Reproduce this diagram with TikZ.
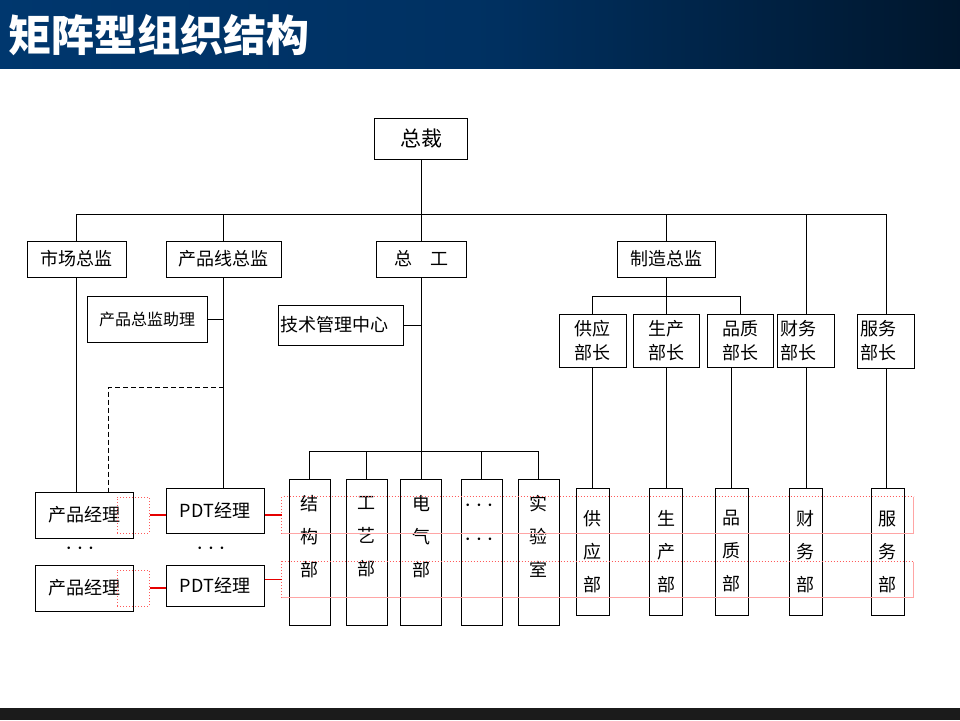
\documentclass[tikz,border=0pt]{standalone}
\usepackage{fontspec}
\setmainfont{Noto Sans CJK SC}
\usepackage{tikz}
\usetikzlibrary{
  calc,
  positioning
}
\definecolor{hdrblue}{RGB}{0,61,122}
\definecolor{hlred}{RGB}{255,90,90}
\definecolor{hlpink}{RGB}{255,165,165}
\definecolor{barblack}{RGB}{27,27,27}
\pgfdeclarehorizontalshading{hdrshade}{100bp}{color(0bp)=(hdrblue); color(50bp)=(hdrblue!80!black); color(96bp)=(black); color(100bp)=(black)}
\tikzset{
  every picture/.style={line width=1pt},
  box/.style={draw, inner sep=1pt, align=center, font=\fontsize{18}{24}\selectfont},
  leftbox/.style={box, align=left, inner xsep=3pt},
  deptbox/.style={draw, inner sep=0pt, minimum height=146pt, align=center, font=\fontsize{18}{33}\selectfont},
  unitbox/.style={draw, inner sep=0pt, minimum width=33pt, minimum height=127pt, align=center, font=\fontsize{18}{33}\selectfont},
  hlbox/.style={draw=hlred, dotted, line width=1pt, minimum width=32pt, minimum height=36pt, inner sep=0pt},
  band/.style={minimum width=631pt, inner sep=0pt},
  redlink/.style={draw=red!90!black, line width=1.1pt},
  dashlink/.style={draw, dash pattern=on 5pt off 3pt},
  dotsnode/.style={font=\fontsize{24}{24}\selectfont, inner sep=0pt}
}

\begin{document}
\begin{tikzpicture}[x=1pt,y=-1pt]
  \useasboundingbox (0,0) rectangle (960,720);
  \shade[shading=hdrshade] (0,0) rectangle (960,68);
  \fill[barblack] (0,708) rectangle (960,720);
  \node[anchor=west, text=white, font=\fontsize{43}{46}\selectfont\bfseries, inner sep=0pt] (title) at (8,35) {矩阵型组织结构};

  % top level
  \node[box, minimum width=93pt, minimum height=41pt, font=\fontsize{21}{24}\selectfont] (zc) at (421,138.5) {总裁};
  \node[box, minimum width=99pt, minimum height=36pt] (sc) at (76.5,259) {市场总监};
  \node[box, minimum width=115pt, minimum height=36pt] (cpx) at (223.5,259) {产品线总监};
  \node[box, minimum width=90pt, minimum height=36pt] (zg) at (421,259) {总　工};
  \node[box, minimum width=98pt, minimum height=36pt] (zz) at (666,259) {制造总监};

  \node[box, minimum width=120pt, minimum height=46pt, font=\fontsize{16}{20}\selectfont] (zl) at (147,319) {产品总监助理};
  \node[leftbox, text width=121pt, minimum height=40pt, inner xsep=2pt] (jsz) at (340.5,325) {技术管理中心};

  % ministers
  \node[box, minimum width=67pt, minimum height=53pt] (gongying-bz) at (592.5,340.5) {供应\\部长};
  \node[box, minimum width=66pt, minimum height=53pt] (shengchan-bz) at (666,340.5) {生产\\部长};
  \node[box, minimum width=66pt, minimum height=53pt] (pinzhi-bz) at (740,340.5) {品质\\部长};
  \node[leftbox, text width=51pt, minimum height=53pt] (caiwu-bz) at (806,340.5) {财务\\部长};
  \node[leftbox, text width=51pt, minimum height=54pt] (fuwu-bz) at (886,341) {服务\\部长};

  % departments
  \node[deptbox, minimum width=41pt] (jiegou) at (309.5,552) {结\\构\\部\\~};
  \node[deptbox, minimum width=41pt] (gongyi) at (366.5,552) {工\\艺\\部\\~};
  \node[deptbox, minimum width=41pt] (dianqi) at (421,552) {电\\气\\部\\~};
  \node[deptbox, minimum width=41pt] (gengduo) at (481.5,552) {};
  \node[dotsnode] (gddots1) at (479,506) {$\cdots$};
  \node[dotsnode] (gddots2) at (479,540) {$\cdots$};
  \node[deptbox, minimum width=41pt] (shiyan) at (538.5,552) {实\\验\\室\\~};

  \node[unitbox] (gongying-bu) at (592.5,551.5) {供\\应\\部};
  \node[unitbox] (shengchan-bu) at (666,552) {生\\产\\部};
  \node[unitbox] (pinzhi-bu) at (731.5,551.5) {品\\质\\部};
  \node[unitbox] (caiwu-bu) at (805.5,551.5) {财\\务\\部};
  \node[unitbox] (fuwu-bu) at (887.5,551.5) {服\\务\\部};

  % product side
  \node[box, minimum width=98pt, minimum height=46pt] (pm1) at (84,515) {产品经理};
  \node[box, minimum width=98pt, minimum height=46pt] (pm2) at (84,588) {产品经理};
  \node[box, minimum width=98pt, minimum height=45pt] (pdt1) at (215,510.5) {PDT经理};
  \node[box, minimum width=98pt, minimum height=41pt] (pdt2) at (215,585.5) {PDT经理};
  \node[dotsnode] (pmdots) at (80,549) {$\cdots$};
  \node[dotsnode] (pdtdots) at (211,549) {$\cdots$};

  % tree lines
  \coordinate (bus) at (421,214);
  \draw (zc.south) -- (zg.north);
  \draw (sc.north) -- (sc.north |- bus) -| (fuwu-bz.north);
  \foreach \n in {cpx,zz,caiwu-bz}
    \draw (\n.north) -- (\n.north |- bus);

  \coordinate (mbus) at (666,296);
  \draw (zz.south) -- (shengchan-bz.north);
  \draw (gongying-bz.north) -- (gongying-bz.north |- mbus) -| (pinzhi-bz.north);
  \foreach \a/\b in {gongying-bz/gongying-bu,shengchan-bz/shengchan-bu,caiwu-bz/caiwu-bu,fuwu-bz/fuwu-bu}
    \draw (\a.south) -- (\a.south |- \b.north);
  \draw (pinzhi-bu.north |- pinzhi-bz.south) -- (pinzhi-bu.north);

  \coordinate (tbus) at (421,451);
  \draw (zg.south) -- (dianqi.north);
  \draw (jiegou.north) -- (jiegou.north |- tbus) -| (shiyan.north);
  \foreach \n in {gongyi,gengduo}
    \draw (\n.north) -- (\n.north |- tbus);
  \draw (jsz.east) -- (jsz.east -| zg.south);
  \draw (zl.east) -- (zl.east -| cpx.south);

  \draw (sc.south) -- (sc.south |- pm1.north);
  \draw (cpx.south) -- (cpx.south |- pdt1.north);
  \coordinate (dj) at (cpx.south |- 0,387);
  \draw[dashlink] (dj) -| ([xshift=24pt]pm1.north);

  % matrix rows
  \node[hlbox] (hl1) at (133,515) {};
  \node[hlbox] (hl2) at (133,588) {};
  \node[band, minimum height=36pt] (row1) at (597.5,515) {};
  \node[band, minimum height=35pt] (row2) at (597.5,579.5) {};
  \foreach \r in {row1,row2} {
    \draw[hlred, dotted, line width=1pt] (\r.south west) |- (\r.north east);
    \draw[hlpink, line width=1pt] (\r.north east) |- (\r.south west);
  }
  \draw[redlink] (hl1.east) -- (hl1.east -| pdt1.west);
  \draw[redlink] (hl2.east) -- (hl2.east -| pdt2.west);
  \draw[redlink] (row1.west -| pdt1.east) -- (row1.west);
  \draw[redlink] (row2.west -| pdt2.east) -- (row2.west);
\end{tikzpicture}
\end{document}
